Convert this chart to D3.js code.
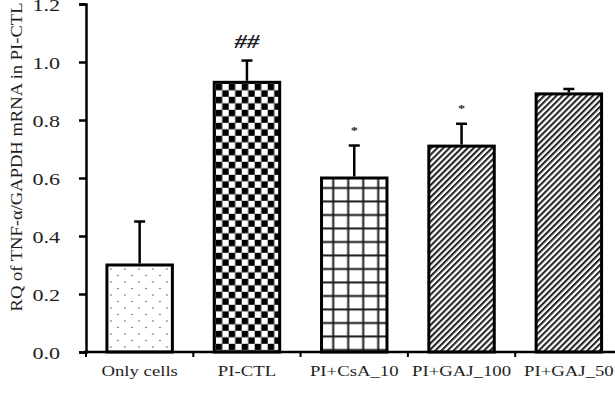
<!DOCTYPE html>
<html>
<head>
<meta charset="utf-8">
<script src="https://cdn.jsdelivr.net/npm/d3@7"></script>
<style>
  html, body { margin: 0; padding: 0; background: #fff; }
  svg { display: block; }
  text { font-family: "Liberation Serif", "DejaVu Serif", serif; fill: #1e1e24; }
</style>
</head>
<body>
<svg width="615" height="406"></svg>
<script>
// data
const groups = ["Only cells", "PI-CTL", "PI+CsA_10", "PI+GAJ_100", "PI+GAJ_50"];
const means  = [0.30, 0.93, 0.60, 0.71, 0.89];
const errors = [0.15, 0.075, 0.112, 0.077, 0.017];
const marks  = ["", "##", "*", "*", ""];
const yTicks = [0.0, 0.2, 0.4, 0.6, 0.8, 1.0, 1.2];
const fills  = ["dots", "checker", "grid", "hatch", "hatch"];

const svg = d3.select("svg");
const stretch = 1.3; // the original picture is squeezed/stretched sideways

const x = d3.scaleBand()
  .domain(groups)
  .range([86, 622.5])
  .paddingInner(0.39)
  .paddingOuter(0.195);

const y = d3.scaleLinear()
  .domain([0, 1.2])
  .range([352, 4]);

const step = x.step();
const defs = svg.append("defs");

// fill patterns, one per bar so each lines up with its bar
groups.forEach((g, i) => {
  const bx = x(g), by = y(means[i]);
  const id = "pat" + i;
  const kind = fills[i];
  let p;
  if (kind === "dots") {
    p = defs.append("pattern").attr("id", id).attr("patternUnits", "userSpaceOnUse")
      .attr("x", bx).attr("y", by).attr("width", 14).attr("height", 13);
    p.append("rect").attr("width", 14).attr("height", 13).attr("fill", "#fff");
    p.append("circle").attr("cx", 4).attr("cy", 4).attr("r", 0.8).attr("fill", "#555");
    p.append("circle").attr("cx", 11).attr("cy", 10.5).attr("r", 0.8).attr("fill", "#555");
  } else if (kind === "checker") {
    const c = 6.5;
    p = defs.append("pattern").attr("id", id).attr("patternUnits", "userSpaceOnUse")
      .attr("x", bx + 1.5).attr("y", by + 1.5).attr("width", c * 2).attr("height", c * 2);
    p.append("rect").attr("width", c * 2).attr("height", c * 2).attr("fill", "#fff");
    p.append("rect").attr("width", c).attr("height", c).attr("fill", "#000");
    p.append("rect").attr("x", c).attr("y", c).attr("width", c).attr("height", c).attr("fill", "#000");
  } else if (kind === "grid") {
    p = defs.append("pattern").attr("id", id).attr("patternUnits", "userSpaceOnUse")
      .attr("x", bx).attr("y", by).attr("width", 15).attr("height", 13.5);
    p.append("rect").attr("width", 15).attr("height", 13.5).attr("fill", "#fff");
    p.append("rect").attr("x", 10.7).attr("width", 2).attr("height", 13.5).attr("fill", "#1a1a1a");
    p.append("rect").attr("y", 9).attr("width", 15).attr("height", 2).attr("fill", "#1a1a1a");
  } else {
    p = defs.append("pattern").attr("id", id).attr("patternUnits", "userSpaceOnUse")
      .attr("width", 4.3).attr("height", 4.3)
      .attr("patternTransform", "rotate(45)");
    p.append("rect").attr("width", 4.3).attr("height", 4.3).attr("fill", "#fff");
    p.append("rect").attr("width", 2.1).attr("height", 4.3).attr("fill", "#262626");
  }
});

// bars
svg.selectAll(".bar")
  .data(groups)
  .enter()
  .append("rect")
  .attr("class", "bar")
  .attr("x", d => x(d))
  .attr("y", (d, i) => y(means[i]))
  .attr("width", x.bandwidth())
  .attr("height", (d, i) => y(0) - y(means[i]))
  .attr("fill", (d, i) => `url(#pat${i})`)
  .attr("stroke", "#000")
  .attr("stroke-width", 3);

// error bars (upper only)
const cx = d => x(d) + x.bandwidth() / 2;
svg.selectAll(".err")
  .data(groups)
  .enter()
  .append("line")
  .attr("x1", cx).attr("x2", cx)
  .attr("y1", (d, i) => y(means[i]) - 1.5)
  .attr("y2", (d, i) => y(means[i] + errors[i]))
  .attr("stroke", "#000")
  .attr("stroke-width", 2.5);

svg.selectAll(".cap")
  .data(groups)
  .enter()
  .append("line")
  .attr("x1", d => cx(d) - 5.5).attr("x2", d => cx(d) + 5.5)
  .attr("y1", (d, i) => y(means[i] + errors[i]))
  .attr("y2", (d, i) => y(means[i] + errors[i]))
  .attr("stroke", "#000")
  .attr("stroke-width", 2.5);

// significance marks
groups.forEach((g, i) => {
  if (!marks[i]) return;
  const top = y(means[i] + errors[i]);
  const star = marks[i] === "*";
  svg.append("text")
    .attr("transform", `translate(${cx(g)},${star ? top - 12 : top - 13}) scale(${stretch},1)`)
    .attr("text-anchor", "middle")
    .style("font-size", star ? "11px" : "19px")
    .style("font-style", star ? "normal" : "italic")
    .style("font-weight", "bold")
    .text(marks[i]);
});

// y axis
const yAxis = svg.append("g")
  .attr("transform", "translate(86,0)")
  .call(d3.axisLeft(y).tickValues(yTicks).tickFormat(d3.format(".1f")).tickSize(7).tickPadding(19));
yAxis.select(".domain").attr("stroke", "#000").attr("stroke-width", 2.5);
yAxis.selectAll(".tick line").attr("stroke", "#000").attr("stroke-width", 2.5);
yAxis.selectAll(".tick text")
  .attr("x", -26 / stretch)
  .attr("dy", "0.36em")
  .attr("transform", `scale(${stretch},1)`)
  .style("font-size", "17px")
  .style("font-family", "'Liberation Serif', serif")
  .attr("fill", "#1e1e24");

// x axis line and ticks between groups
svg.append("line")
  .attr("x1", 84).attr("x2", 640)
  .attr("y1", y(0)).attr("y2", y(0))
  .attr("stroke", "#000").attr("stroke-width", 2.5);

svg.selectAll(".xtick")
  .data(groups)
  .enter()
  .append("line")
  .attr("x1", d => cx(d) - step / 2).attr("x2", d => cx(d) - step / 2)
  .attr("y1", y(0)).attr("y2", y(0) + 5)
  .attr("stroke", "#000").attr("stroke-width", 2);

svg.selectAll(".xlabel")
  .data(groups)
  .enter()
  .append("text")
  .attr("transform", d => `translate(${cx(d)},376) scale(1.25,1)`)
  .attr("text-anchor", "middle")
  .style("font-size", "15px")
  .text(d => d);

// y axis title
svg.append("text")
  .attr("transform", "translate(22,157) rotate(-90)")
  .attr("text-anchor", "middle")
  .attr("textLength", 309)
  .attr("lengthAdjust", "spacingAndGlyphs")
  .style("font-size", "17px")
  .text("RQ of TNF-α/GAPDH mRNA in PI-CTL");
</script>
</body>
</html>
